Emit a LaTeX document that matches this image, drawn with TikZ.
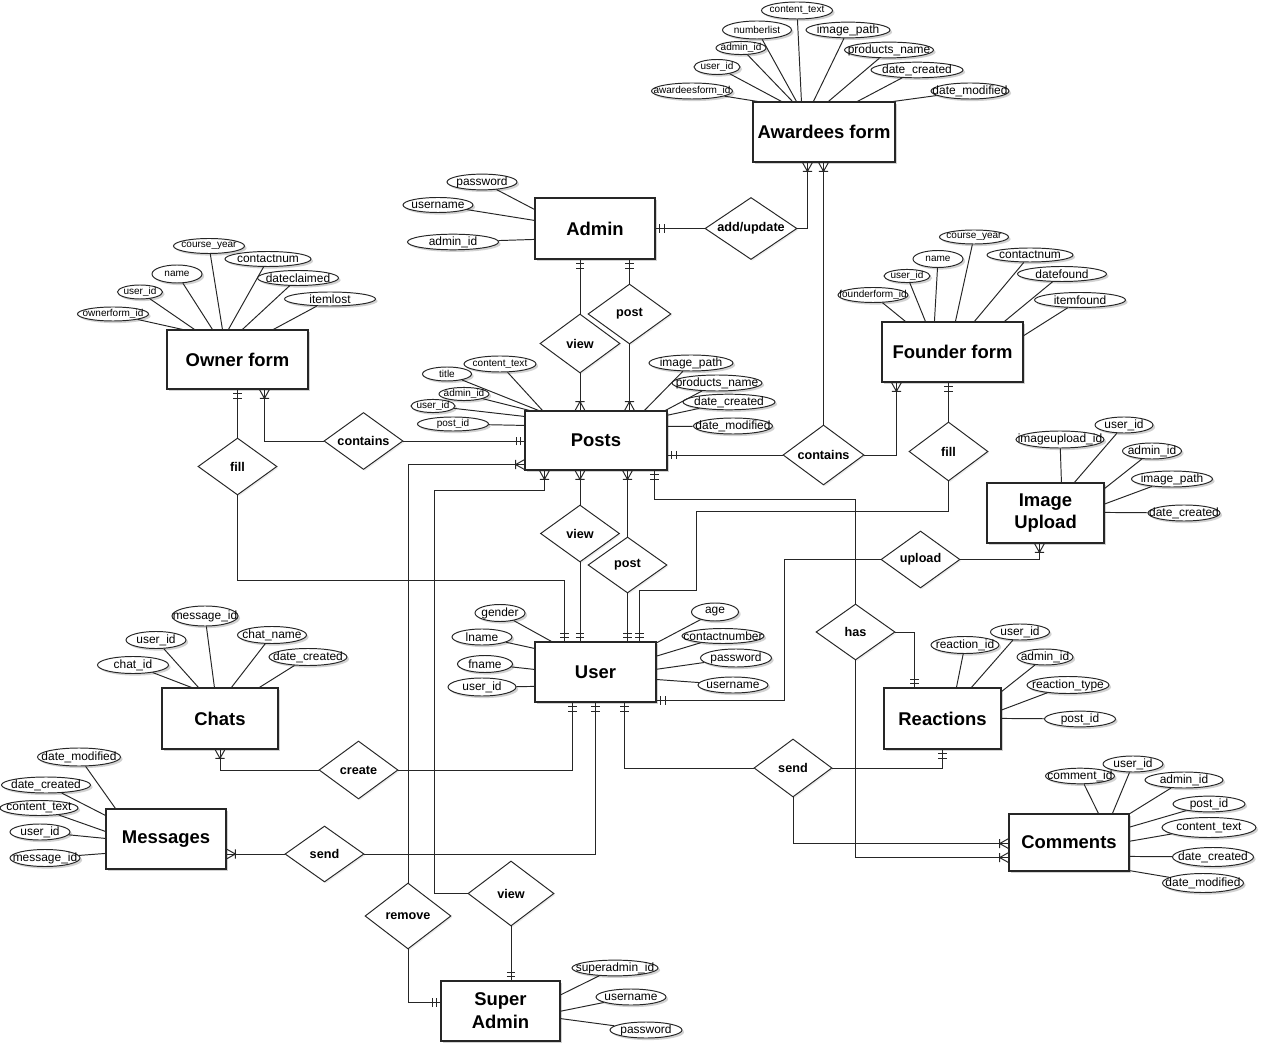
\documentclass[tikz,border=0pt]{standalone}
\usepackage{fontspec}
\setmainfont{Liberation Sans}
\usetikzlibrary{shapes.geometric,calc,shadows,decorations.markings}

\newcommand\bigattrfont{\fontsize{6.8}{7.5}\selectfont}
\newcommand\smallattrfont{\fontsize{5.7}{6.5}\selectfont}

\tikzset{
  softshadow/.style={drop shadow={shadow xshift=1.2pt, shadow yshift=-1.2pt, opacity=0.25, fill=black!70}},
  entity/.style={rectangle, draw=black!85, line width=0.65pt, fill=white, inner sep=0pt, align=center,
    font=\fontsize{10.5}{13}\selectfont\bfseries, softshadow},
  rel/.style={diamond, shape aspect=1.4, draw=black!85, line width=0.55pt, fill=white, inner sep=0pt,
    font=\fontsize{7.2}{8}\selectfont\bfseries, drop shadow={shadow xshift=0.8pt, shadow yshift=-0.8pt, opacity=0.15}},
  attr/.style={ellipse, draw=black!85, line width=0.55pt, fill=white, inner sep=0pt, softshadow},
  att/.style={draw=black!85, line width=0.55pt},
  link/.style={draw=black!85, line width=0.55pt},
  oneend/.style={postaction={decorate, decoration={markings,
    mark=at position -2.4pt with {\draw[line width=0.55pt] (0pt,-2.4pt) -- (0pt,2.4pt);},
    mark=at position -4.8pt with {\draw[line width=0.55pt] (0pt,-2.4pt) -- (0pt,2.4pt);}}}},
  manyend/.style={postaction={decorate, decoration={markings,
    mark=at position -5pt with {\draw[line width=0.55pt] (5pt,2.8pt) -- (0pt,0pt) -- (5pt,-2.8pt) (0pt,-2.6pt) -- (0pt,2.6pt);}}}},
}

% attribute ellipses: name, centre, width, height (px units), text
\newcommand\attrbig[5]{\node[attr,font=\bigattrfont,minimum width=#3*0.02cm,minimum height=#4*0.02cm] (#1) at (#2) {\makebox[0pt]{#5}};}
\newcommand\attrsmall[5]{\node[attr,font=\smallattrfont,minimum width=#3*0.02cm,minimum height=#4*0.02cm] (#1) at (#2) {\makebox[0pt]{#5}};}
% line from an attribute to a point on its entity, offset from the entity's north west corner
\newcommand\attrlink[3]{\draw[att] (#1) -- ($(#2.north west)+(#3)$);}

\begin{document}
\begin{tikzpicture}[x=0.02cm,y=-0.02cm]
\fill[white] (0,0) rectangle (1267,1053);
\useasboundingbox (0,0) rectangle (1267,1053);

% ---------------- entities ----------------
\node[entity, minimum width=2.84cm, minimum height=1.2cm]  (aw)        at (824,132)     {Awardees form};
\node[entity, minimum width=2.4cm,  minimum height=1.22cm] (admin)     at (595,228.5)   {Admin};
\node[entity, minimum width=2.82cm, minimum height=1.18cm] (owner)     at (237.5,359.5) {Owner form};
\node[entity, minimum width=2.82cm, minimum height=1.2cm]  (founder)   at (952.5,352)   {Founder form};
\node[entity, minimum width=2.84cm, minimum height=1.18cm] (posts)     at (596,440.5)   {Posts};
\node[entity, minimum width=2.34cm, minimum height=1.2cm]  (imgup)     at (1045.5,513)  {Image\\Upload};
\node[entity, minimum width=2.42cm, minimum height=1.2cm]  (user)      at (595.5,672)   {User};
\node[entity, minimum width=2.32cm, minimum height=1.22cm] (chats)     at (220,718.5)   {Chats};
\node[entity, minimum width=2.34cm, minimum height=1.22cm] (reactions) at (942.5,718.5) {Reactions};
\node[entity, minimum width=2.4cm,  minimum height=1.2cm]  (messages)  at (166,839)     {Messages};
\node[entity, minimum width=2.4cm,  minimum height=1.14cm] (comments)  at (1069,842.5)  {Comments};
\node[entity, minimum width=2.38cm, minimum height=1.2cm]  (sadmin)    at (500.5,1011)  {Super\\Admin};

% ---------------- relationships ----------------
\node[rel, minimum width=1.84cm, minimum height=1.24cm] (addupd) at (751,228.5)   {add/update};
\node[rel, minimum width=1.66cm, minimum height=1.2cm]  (postA)  at (629.5,314)   {post};
\node[rel, minimum width=1.6cm,  minimum height=1.18cm] (viewA)  at (580,343.5)   {view};
\node[rel, minimum width=1.58cm, minimum height=1.14cm] (fillO)  at (237.5,466.5) {fill};
\node[rel, minimum width=1.58cm, minimum height=1.14cm] (contO)  at (363.5,441)   {contains};
\node[rel, minimum width=1.62cm, minimum height=1.2cm]  (contF)  at (823.5,455)   {contains};
\node[rel, minimum width=1.58cm, minimum height=1.18cm] (fillF)  at (948.5,451.5) {fill};
\node[rel, minimum width=1.58cm, minimum height=1.14cm] (viewU)  at (580,533.5)   {view};
\node[rel, minimum width=1.58cm, minimum height=1.12cm] (postU)  at (627.5,565)   {post};
\node[rel, minimum width=1.58cm, minimum height=1.14cm] (upload) at (920.5,559.5) {upload};
\node[rel, minimum width=1.58cm, minimum height=1.12cm] (has)    at (855.5,632)   {has};
\node[rel, minimum width=1.56cm, minimum height=1.16cm] (sendR)  at (793,768)     {send};
\node[rel, minimum width=1.58cm, minimum height=1.16cm] (create) at (358.5,770)   {create};
\node[rel, minimum width=1.58cm, minimum height=1.12cm] (sendM)  at (324.5,854)   {send};
\node[rel, minimum width=1.72cm, minimum height=1.32cm] (remove) at (408,916)     {remove};
\node[rel, minimum width=1.72cm, minimum height=1.3cm]  (viewS)  at (511,893.5)   {view};

% ---------------- relationship connectors ----------------
\draw[link, oneend]  (addupd.west) -- (admin.east);
\draw[link, manyend] (addupd.east) -| ($(aw.south west)+(55,0)$);
\draw[link, manyend] (contF.north) -- (contF.north |- aw.south);
\draw[link, oneend]  (contF.west) -- (contF.west -| posts.east);
\draw[link, manyend] (contF.east) -| ($(founder.south west)+(15,0)$);
\draw[link, oneend]  (fillF.north) -- (fillF.north |- founder.south);
\draw[link, oneend]  (fillF.south) -- ++(0,30) -- ++(-252.5,0) -- ++(0,79) -| ($(user.north west)+(105,0)$);
\draw[link, oneend]  (fillO.north) -- (fillO.north |- owner.south);
\draw[link, oneend]  (fillO.south) -- ++(0,85) -| ($(user.north west)+(30,0)$);
\draw[link, manyend] (contO.west) -| ($(owner.south west)+(98,0)$);
\draw[link, oneend]  (contO.east) -- (contO.east -| posts.west);
\draw[link, oneend]  (viewA.north) -- (viewA.north |- admin.south);
\draw[link, manyend] (viewA.south) -- (viewA.south |- posts.north);
\draw[link, oneend]  (postA.north) -- (postA.north |- admin.south);
\draw[link, manyend] (postA.south) -- (postA.south |- posts.north);
\draw[link, manyend] (viewU.north) -- (viewU.north |- posts.south);
\draw[link, oneend]  (viewU.south) -- (viewU.south |- user.north);
\draw[link, manyend] (postU.north) -- (postU.north |- posts.south);
\draw[link, oneend]  (postU.south) -- (postU.south |- user.north);
\draw[link, oneend]  (has.north) -- ++(0,-104) -| ($(posts.south west)+(130,0)$);
\draw[link, oneend]  (has.east) -| ($(reactions.north west)+(31,0)$);
\draw[link, manyend] (has.south) |- ($(comments.south west)+(0,-14)$);
\draw[link, manyend] (upload.east) -| ($(imgup.south west)+(53,0)$);
\draw[link, oneend]  (upload.west) -- ++(-96,0) |- ($(user.south east)+(0,-2)$);
\draw[link, oneend]  (create.east) -| ($(user.south west)+(38,0)$);
\draw[link, manyend] (create.west) -| (chats.south);
\draw[link, oneend]  (sendM.east) -| (user.south);
\draw[link, manyend] (sendM.west) -- (sendM.west -| messages.east);
\draw[link, oneend]  (sendR.west) -| ($(user.south west)+(90,0)$);
\draw[link, oneend]  (sendR.east) -| (reactions.south);
\draw[link, manyend] (sendR.south) |- ($(comments.south west)+(0,-28)$);
\draw[link, manyend] (remove.north) |- ($(posts.south west)+(0,-6)$);
\draw[link, oneend]  (remove.south) |- ($(sadmin.north west)+(0,22)$);
\draw[link, manyend] (viewS.west) -- ++(-33,0) -- ++(0,-403) -| ($(posts.south west)+(20,0)$);
\draw[link, oneend]  (viewS.south) -- (viewS.south |- sadmin.north);

% ---------------- Awardees form attributes ----------------
\attrsmall{awA}{692,91}{81}{16}{awardeesform\_id}
\attrsmall{awB}{717,67}{46}{15}{user\_id}
\attrsmall{awC}{741,48}{50}{13}{admin\_id}
\attrsmall{awD}{757,30}{69}{18}{numberlist}
\attrsmall{awE}{797,10.5}{71}{17}{content\_text}
\attrbig{awF}{848,30}{84}{15}{image\_path}
\attrbig{awG}{889,50}{89}{15}{products\_name}
\attrbig{awH}{917,70}{92}{14}{date\_created}
\attrbig{awI}{970,91}{78}{16}{date\_modified}
\attrlink{awA}{aw}{5,0}
\attrlink{awB}{aw}{29,0}
\attrlink{awC}{aw}{40,0}
\attrlink{awD}{aw}{44,0}
\attrlink{awE}{aw}{49,0}
\attrlink{awF}{aw}{61,0}
\attrlink{awG}{aw}{76,0}
\attrlink{awH}{aw}{105,0}
\attrlink{awI}{aw}{141,0}

% ---------------- Admin attributes ----------------
\attrbig{adA}{482,182}{70}{15}{password}
\attrbig{adB}{438,205}{70}{15}{username}
\attrbig{adC}{453,242}{91}{15}{admin\_id}
\attrlink{adA}{admin}{0,12}
\attrlink{adB}{admin}{0,23}
\attrlink{adC}{admin}{0,42}

% ---------------- Owner form attributes ----------------
\attrsmall{owA}{113,314}{71}{14}{ownerform\_id}
\attrsmall{owB}{140,292}{45}{14}{user\_id}
\attrsmall{owC}{177,274}{50}{18}{name}
\attrsmall{owD}{209,246}{71}{15}{course\_year}
\attrbig{owE}{268,259}{86}{15}{contactnum}
\attrbig{owF}{298,278}{81}{15}{dateclaimed}
\attrbig{owG}{330,299}{91}{14}{itemlost}
\attrlink{owA}{owner}{16,0}
\attrlink{owB}{owner}{28,0}
\attrlink{owC}{owner}{46,0}
\attrlink{owD}{owner}{56,0}
\attrlink{owE}{owner}{62,0}
\attrlink{owF}{owner}{76,0}
\attrlink{owG}{owner}{107,0}

% ---------------- Founder form attributes ----------------
\attrsmall{foA}{873,295}{70}{15}{founderform\_id}
\attrsmall{foB}{907,276}{46}{13}{user\_id}
\attrsmall{foC}{938,259}{50}{17}{name}
\attrsmall{foD}{974,237}{69}{14}{course\_year}
\attrbig{foE}{1030,255}{86}{14}{contactnum}
\attrbig{foF}{1062,274}{89}{15}{datefound}
\attrbig{foG}{1080,300}{91}{15}{itemfound}
\attrlink{foA}{founder}{24,0}
\attrlink{foB}{founder}{44,0}
\attrlink{foC}{founder}{53,0}
\attrlink{foD}{founder}{74,0}
\attrlink{foE}{founder}{93,0}
\attrlink{foF}{founder}{123,0}
\attrlink{foG}{founder}{141,15}

% ---------------- Posts attributes ----------------
\attrsmall{poA}{447,374}{49}{14}{title}
\attrsmall{poB}{500,364}{72}{16}{content\_text}
\attrsmall{poC}{464,394}{50}{12}{admin\_id}
\attrsmall{poD}{433,406}{44}{13}{user\_id}
\attrsmall{poE}{453,424}{71}{14}{post\_id}
\attrbig{poF}{691,363}{84}{16}{image\_path}
\attrbig{poG}{717,383}{90}{16}{products\_name}
\attrbig{poH}{729,402}{92}{15}{date\_created}
\attrbig{poI}{733,426}{79}{16}{date\_modified}
\attrlink{poA}{posts}{14,0}
\attrlink{poB}{posts}{18,0}
\attrlink{poC}{posts}{5,0}
\attrlink{poD}{posts}{0,6}
\attrlink{poE}{posts}{0,15}
\attrlink{poF}{posts}{120,0}
\attrlink{poG}{posts}{141,0}
\attrlink{poH}{posts}{142,5}
\attrlink{poI}{posts}{142,16}

% ---------------- Image Upload attributes ----------------
\attrbig{iuA}{1060,439.5}{88}{17}{imageupload\_id}
\attrbig{iuB}{1124,425}{58}{16}{user\_id}
\attrbig{iuC}{1152,451}{59}{16}{admin\_id}
\attrbig{iuD}{1172,479}{81}{16}{image\_path}
\attrbig{iuE}{1184,513}{72}{16}{date\_created}
\attrlink{iuA}{imgup}{75,0}
\attrlink{iuB}{imgup}{88,0}
\attrlink{iuC}{imgup}{117,7}
\attrlink{iuD}{imgup}{117,22}
\attrlink{iuE}{imgup}{117,30}

% ---------------- User attributes ----------------
\attrbig{usA}{500,613}{50}{17}{gender}
\attrbig{usB}{482,637}{60}{16}{lname}
\attrbig{usC}{485,664}{55}{17}{fname}
\attrbig{usD}{482,687}{68}{18}{user\_id}
\attrbig{usE}{715,612}{47}{18}{age}
\attrbig{usF}{723,636}{82}{15}{contactnumber}
\attrbig{usG}{736,658}{71}{18}{password}
\attrbig{usH}{733,685}{70}{16}{username}
\attrlink{usA}{user}{17,0}
\attrlink{usB}{user}{0,7}
\attrlink{usC}{user}{0,28}
\attrlink{usD}{user}{0,45}
\attrlink{usE}{user}{121,2}
\attrlink{usF}{user}{121,15}
\attrlink{usG}{user}{121,28}
\attrlink{usH}{user}{121,38}

% ---------------- Chats attributes ----------------
\attrbig{chA}{133,665}{71}{17}{chat\_id}
\attrbig{chB}{156,640}{60}{17}{user\_id}
\attrbig{chC}{205,616}{66}{20}{message\_id}
\attrbig{chD}{272,635}{69}{17}{chat\_name}
\attrbig{chE}{308,657}{78}{17}{date\_created}
\attrlink{chA}{chats}{30,0}
\attrlink{chB}{chats}{37,0}
\attrlink{chC}{chats}{53,0}
\attrlink{chD}{chats}{70,0}
\attrlink{chE}{chats}{98,0}

% ---------------- Messages attributes ----------------
\attrbig{meA}{79,757}{83}{18}{date\_modified}
\attrbig{meB}{46,785}{89}{16}{date\_created}
\attrbig{meC}{39,808}{78}{15}{content\_text}
\attrbig{meD}{40,832}{60}{16}{user\_id}
\attrbig{meE}{45,858}{70}{17}{message\_id}
\attrlink{meA}{messages}{10,0}
\attrlink{meB}{messages}{0,7}
\attrlink{meC}{messages}{0,23}
\attrlink{meD}{messages}{0,30}
\attrlink{meE}{messages}{0,45}

% ---------------- Reactions attributes ----------------
\attrbig{reA}{965,645}{68}{17}{reaction\_id}
\attrbig{reB}{1020,632}{59}{16}{user\_id}
\attrbig{reC}{1045,657}{56}{16}{admin\_id}
\attrbig{reD}{1068,685}{82}{17}{reaction\_type}
\attrbig{reE}{1080,719}{71}{15}{post\_id}
\attrlink{reA}{reactions}{73,0}
\attrlink{reB}{reactions}{88,0}
\attrlink{reC}{reactions}{117,5}
\attrlink{reD}{reactions}{117,23}
\attrlink{reE}{reactions}{117,31}

% ---------------- Comments attributes ----------------
\attrbig{coA}{1080,776}{69}{15}{comment\_id}
\attrbig{coB}{1133,764}{60}{16}{user\_id}
\attrbig{coC}{1184,780}{78}{16}{admin\_id}
\attrbig{coD}{1209,804}{72}{15}{post\_id}
\attrbig{coE}{1209,827.5}{94}{20}{content\_text}
\attrbig{coF}{1213,857}{81}{19}{date\_created}
\attrbig{coG}{1203,883}{81}{19}{date\_modified}
\attrlink{coA}{comments}{90,0}
\attrlink{coB}{comments}{104,0}
\attrlink{coC}{comments}{120,1}
\attrlink{coD}{comments}{120,14}
\attrlink{coE}{comments}{120,28}
\attrlink{coF}{comments}{120,43}
\attrlink{coG}{comments}{120,57}

% ---------------- Super Admin attributes ----------------
\attrbig{saA}{615,968}{86}{15}{superadmin\_id}
\attrbig{saB}{631,997}{70}{16}{username}
\attrbig{saC}{646,1030}{72}{16}{password}
\attrlink{saA}{sadmin}{119,15}
\attrlink{saB}{sadmin}{119,31}
\attrlink{saC}{sadmin}{119,38}

\end{tikzpicture}
\end{document}
